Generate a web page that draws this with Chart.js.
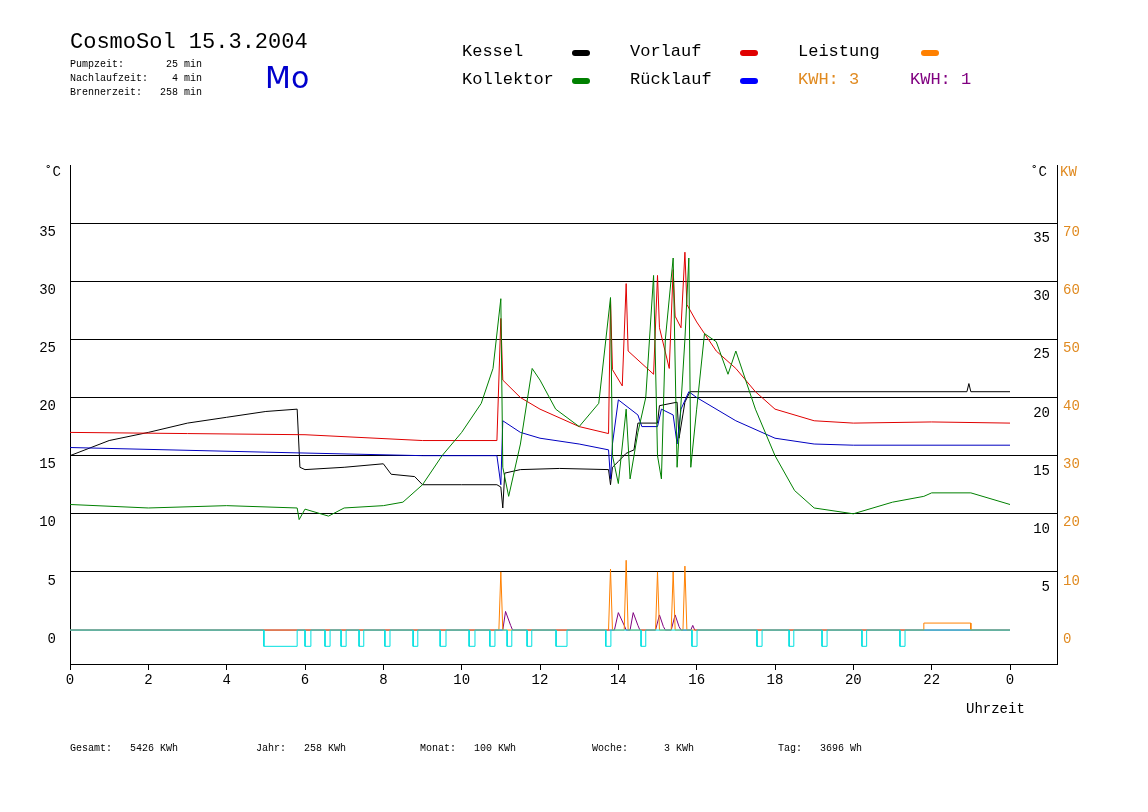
<!DOCTYPE html>
<html>
<head>
<meta charset="utf-8">
<script src="https://cdn.jsdelivr.net/npm/chart.js@4/dist/chart.umd.min.js"></script>
<style>
  body { margin: 0; background: #fff; font-family: "Liberation Mono", "DejaVu Sans Mono", monospace; }
  #wrap { position: relative; width: 1148px; height: 812px; }
  canvas { position: absolute; left: 0; top: 0; }
  .t { position: absolute; white-space: pre; color: #000; }
  .f { position: absolute; white-space: pre; color: #000; top: 743px; font-size: 10px; }
  .pill { position: absolute; width: 18px; height: 6px; border-radius: 3px; }
</style>
</head>
<body>
<div id="wrap">
  <canvas id="c" width="1148" height="812"></canvas>
  <div class="t" style="left:70px;top:30px;font-size:22px;">CosmoSol 15.3.2004</div>
  <div class="t" style="left:70px;top:58px;font-size:10px;line-height:14px;">Pumpzeit:       25 min
Nachlaufzeit:    4 min
Brennerzeit:   258 min</div>
  <div class="t" style="left:265px;top:60px;font-size:30px;color:#0000cc;font-family:'DejaVu Sans';">Mo</div>

  <div class="t" style="left:462px;top:42px;font-size:17px;">Kessel</div>
  <div class="pill" style="left:572px;top:50px;background:#000"></div>
  <div class="t" style="left:630px;top:42px;font-size:17px;">Vorlauf</div>
  <div class="pill" style="left:740px;top:50px;background:#e00000"></div>
  <div class="t" style="left:798px;top:42px;font-size:17px;">Leistung</div>
  <div class="pill" style="left:921px;top:50px;background:#ff8000"></div>
  <div class="t" style="left:462px;top:70px;font-size:17px;">Kollektor</div>
  <div class="pill" style="left:572px;top:78px;background:#008000"></div>
  <div class="t" style="left:630px;top:70px;font-size:17px;">Rücklauf</div>
  <div class="pill" style="left:740px;top:78px;background:#0000ff"></div>
  <div class="t" style="left:798px;top:70px;font-size:17px;color:#e08a20;">KWH: 3</div>
  <div class="t" style="left:910px;top:70px;font-size:17px;color:#800080;">KWH: 1</div>

  <div class="t" style="left:44px;top:164px;font-size:14px;">˚C</div>
  <div class="t" style="left:1030px;top:164px;font-size:14px;">˚C</div>
  <div class="t" style="left:1060px;top:164px;font-size:14px;color:#e08a20;">KW</div>
  <div class="t" style="left:966px;top:701px;font-size:14px;">Uhrzeit</div>
  <div class="f" style="left:70px;">Gesamt:   5426 KWh</div>
  <div class="f" style="left:256px;">Jahr:   258 KWh</div>
  <div class="f" style="left:420px;">Monat:   100 KWh</div>
  <div class="f" style="left:592px;">Woche:      3 KWh</div>
  <div class="f" style="left:778px;">Tag:   3696 Wh</div>
</div>
<script>
// Zeit (Stunden) und Werte (°C)
var kesselT = [0, 1, 2, 3, 4, 5, 5.8, 5.87, 6, 7, 8, 8.2, 8.8, 9.0, 10, 10.9, 11.0, 11.05, 11.1, 11.5, 12.5, 13.75, 13.8, 13.85, 14.0, 14.2, 14.4, 14.5, 15.0, 15.05, 15.5, 15.55, 15.7, 15.83, 22.9, 22.95, 23.0, 24];
var kesselV = [15.0, 16.3, 17.0, 17.8, 18.3, 18.8, 19.0, 14.0, 13.8, 14.0, 14.3, 13.4, 13.2, 12.5, 12.5, 12.5, 12.3, 10.5, 13.5, 13.8, 13.9, 13.8, 12.5, 14.0, 14.5, 15.2, 15.5, 17.8, 17.8, 19.3, 19.6, 16.5, 19.6, 20.5, 20.5, 21.2, 20.5, 20.5];

var vorlaufT = [0, 3, 6, 9, 10.9, 11.0, 11.05, 11.5, 12, 13, 13.75, 13.8, 13.85, 14.1, 14.2, 14.25, 14.9, 15.0, 15.05, 15.3, 15.4, 15.45, 15.6, 15.7, 15.75, 16, 16.5, 17, 17.5, 18, 19, 20, 22, 24];
var vorlaufV = [17.0, 16.9, 16.8, 16.3, 16.3, 26.8, 21.5, 20.0, 19.0, 17.5, 16.9, 28.5, 22.4, 21.0, 29.8, 24.0, 22.0, 30.5, 26.0, 22.5, 31.0, 27.0, 26.0, 32.5, 28.0, 26.5, 24.0, 22.5, 20.5, 19.0, 18.0, 17.8, 17.9, 17.8];

var ruecklaufT = [0, 5, 9, 10.9, 11.0, 11.05, 11.5, 12, 13, 13.75, 13.8, 13.85, 14.0, 14.5, 14.6, 15.0, 15.1, 15.4, 15.5, 15.6, 15.8, 16, 17, 18, 19, 20, 24];
var ruecklaufV = [15.7, 15.3, 15.0, 15.0, 12.5, 18.0, 17.0, 16.5, 16.0, 15.5, 13.0, 16.0, 19.8, 18.5, 17.5, 17.5, 19.0, 18.5, 16.0, 19.0, 20.5, 20.0, 18.0, 16.5, 16.0, 15.9, 15.9];

var kollektorT = [0, 2, 4, 5.8, 5.85, 6, 6.6, 7, 8, 8.5, 9, 9.5, 10, 10.5, 10.8, 11.0, 11.05, 11.2, 11.5, 11.8, 12, 12.4, 13, 13.5, 13.8, 13.85, 14.0, 14.2, 14.3, 14.5, 14.7, 14.9, 15.0, 15.1, 15.2, 15.4, 15.5, 15.7, 15.8, 15.85, 16, 16.2, 16.5, 16.8, 17.0, 17.5, 18, 18.5, 19, 20, 21, 21.8, 22, 23, 24];
var kollektorV = [10.8, 10.5, 10.7, 10.5, 9.5, 10.4, 9.8, 10.5, 10.7, 11.0, 12.5, 15.0, 17.0, 19.5, 22.5, 28.5, 14.0, 11.5, 16.0, 22.5, 21.5, 19.0, 17.5, 19.5, 28.6, 15.0, 12.6, 19.0, 13.0, 17.0, 20.0, 30.5, 15.0, 13.0, 25.0, 32.0, 14.0, 25.0, 32.0, 14.0, 19.0, 25.5, 24.8, 22.0, 24.0, 19.0, 15.0, 12.0, 10.5, 10.0, 11.0, 11.5, 11.8, 11.8, 10.8];

// Leistung in kW
var leistungT = [0, 10.95, 11.0, 11.05, 13.75, 13.8, 13.85, 14.15, 14.2, 14.25, 14.95, 15.0, 15.05, 15.35, 15.4, 15.45, 15.65, 15.7, 15.75, 21.8, 21.8, 23.0, 23.0, 24];
var leistungV = [0, 0, 10, 0, 0, 10.5, 0, 0, 12, 0, 0, 10, 0, 0, 10, 0, 0, 11, 0, 0, 1.2, 1.2, 0, 0];

// KWH: 1 (°C-Skala)
var kwh1T = [0, 11.05, 11.12, 11.25, 11.3, 13.9, 14.0, 14.15, 14.2, 14.3, 14.38, 14.5, 14.55, 14.95, 15.05, 15.15, 15.2, 15.35, 15.45, 15.55, 15.6, 15.85, 15.9, 15.95, 24];
var kwh1V = [0, 0, 1.6, 0.4, 0, 0, 1.5, 0.4, 0, 0, 1.5, 0.4, 0, 0, 1.3, 0.3, 0, 0, 1.3, 0.3, 0, 0, 0.4, 0, 0];

// Pumpe an (Intervalle in Stunden)
var pumpe = [[4.95, 5.8], [6.0, 6.15], [6.51, 6.64], [6.92, 7.05], [7.38, 7.5], [8.04, 8.17], [8.76, 8.88], [9.45, 9.6], [10.19, 10.34], [10.72, 10.85], [11.16, 11.28], [11.67, 11.79], [12.41, 12.69], [13.68, 13.81], [14.58, 14.7], [15.88, 16.01], [17.54, 17.67], [18.36, 18.48], [19.2, 19.33], [20.22, 20.34], [21.19, 21.32]];

var celsiusTicks = [0, 5, 10, 15, 20, 25, 30, 35];

function pts(t, v) { return t.map(function (x, i) { return { x: x, y: v[i] }; }); }
var pumpPts = [{ x: 0, y: 0 }];
pumpe.forEach(function (p) {
  pumpPts.push({ x: p[0], y: 0 }, { x: p[0], y: -1.4 }, { x: p[1], y: -1.4 }, { x: p[1], y: 0 });
});
pumpPts.push({ x: 24, y: 0 });

function line(label, data, color, axis) {
  return { label: label, data: data, borderColor: color, backgroundColor: color, borderWidth: 1,
    pointRadius: 0, tension: 0, yAxisID: axis || 'y' };
}

// °C-Beschriftung rechts innen
var innerLabels = {
  id: 'innerLabels',
  afterDraw: function (chart) {
    var ctx = chart.ctx, s = chart.scales.y;
    ctx.save();
    ctx.font = '14px "Liberation Mono"';
    ctx.fillStyle = '#000';
    ctx.textAlign = 'right';
    celsiusTicks.forEach(function (v) {
      if (v == 0) return;
      ctx.fillText(String(v), 1050, s.getPixelForValue(v) + 19);
    });
    ctx.restore();
  }
};

new Chart(document.getElementById('c'), {
  type: 'line',
  data: {
    datasets: [
      line('Pumpe', pumpPts, '#00e0e0'),
      line('Kollektor', pts(kollektorT, kollektorV), '#008000'),
      line('Rücklauf', pts(ruecklaufT, ruecklaufV), '#0000c0'),
      line('Vorlauf', pts(vorlaufT, vorlaufV), '#e00000'),
      line('Kessel', pts(kesselT, kesselV), '#000000'),
      line('Leistung', pts(leistungT, leistungV), '#ff8000', 'y2'),
      line('KWH 1', pts(kwh1T, kwh1V), '#800080')
    ]
  },
  options: {
    responsive: false,
    animation: false,
    layout: { padding: { top: 165, left: 0, right: 0, bottom: 0 } },
    plugins: { legend: { display: false }, tooltip: { enabled: false } },
    scales: {
      x: {
        type: 'linear', min: 0, max: 25.2,
        afterBuildTicks: function (s) { s.ticks = [0, 2, 4, 6, 8, 10, 12, 14, 16, 18, 20, 22, 24].map(function (v) { return { value: v }; }); },
        afterFit: function (s) { s.height = 148; },
        ticks: { color: '#000', font: { family: 'Liberation Mono', size: 14 }, maxRotation: 0, padding: 2,
          callback: function (v) { return v == 24 ? '0' : v; } },
        grid: { drawOnChartArea: false, tickLength: 6, color: '#000' },
        border: { color: '#000' }
      },
      y: {
        min: -2.92, max: 40.0, position: 'left',
        afterBuildTicks: function (s) { s.ticks = celsiusTicks.map(function (v) { return { value: v }; }); },
        afterFit: function (s) { s.width = 70; },
        ticks: { color: '#000', font: { family: 'Liberation Mono', size: 14 }, labelOffset: 9, padding: 14 },
        grid: { color: function (c) { return c.tick && c.tick.value == 0 ? 'rgba(0,0,0,0)' : '#000'; }, drawTicks: false },
        border: { color: '#000' }
      },
      y2: {
        min: -5.84, max: 80, position: 'right',
        afterBuildTicks: function (s) { s.ticks = [0, 10, 20, 30, 40, 50, 60, 70].map(function (v) { return { value: v }; }); },
        afterFit: function (s) { s.width = 91; },
        ticks: { color: '#e08a20', font: { family: 'Liberation Mono', size: 14 }, labelOffset: 9, padding: 6 },
        grid: { drawOnChartArea: false, drawTicks: false },
        border: { color: '#000' }
      }
    }
  },
  plugins: [innerLabels]
});
</script>
</body>
</html>
